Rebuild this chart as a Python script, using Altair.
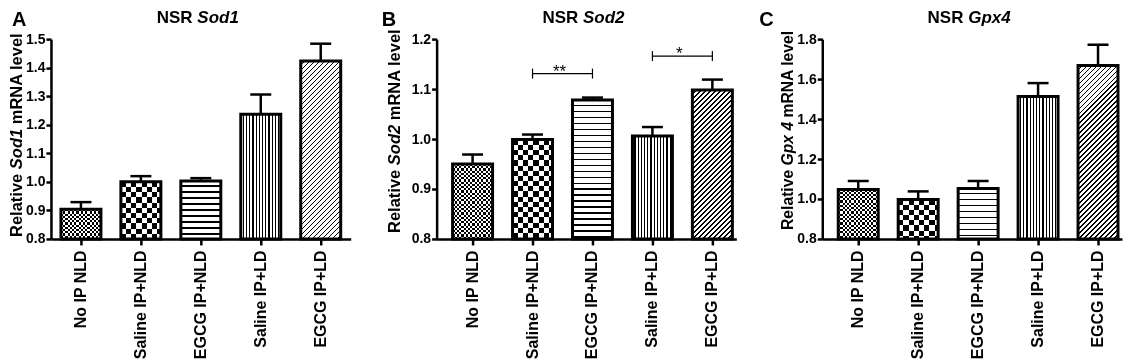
import altair as alt
import pandas as pd

# ---------------- data ----------------
groups = ["No IP NLD", "Saline IP+NLD", "EGCG IP+NLD", "Saline IP+LD", "EGCG IP+LD"]

sod1_mean = [0.904, 1.000, 1.003, 1.237, 1.423]
sod1_err = [0.025, 0.020, 0.010, 0.069, 0.061]

sod2_mean = [0.950, 0.999, 1.078, 1.006, 1.098]
sod2_err = [0.019, 0.010, 0.005, 0.018, 0.021]

gpx4_mean = [1.048, 0.998, 1.053, 1.513, 1.668]
gpx4_err = [0.042, 0.040, 0.037, 0.067, 0.104]

sod1_ticks = [0.8, 0.9, 1.0, 1.1, 1.2, 1.3, 1.4, 1.5]
sod2_ticks = [0.8, 0.9, 1.0, 1.1, 1.2]
gpx4_ticks = [0.8, 1.0, 1.2, 1.4, 1.6, 1.8]

sig_left = ["Saline IP+NLD", "Saline IP+LD"]
sig_right = ["EGCG IP+NLD", "EGCG IP+LD"]
sig_y = [1.131, 1.166]
sig_label = ["**", "*"]

# ---------------- style ----------------
FONT = "Liberation Sans"
W, H = 300, 200
BAND = 40.0
Y0 = 0.8

ARIAL_BOLD = {" ": 278, "R": 722, "e": 556, "l": 278, "a": 556, "t": 333, "i": 278,
              "v": 556, "S": 667, "o": 611, "d": 611, "1": 556, "2": 556, "4": 556,
              "G": 778, "p": 611, "x": 556, "m": 889, "N": 722, "A": 722}


def text_w(s, fs):
    return sum(ARIAL_BOLD.get(c, 556) for c in s) * fs / 1000.0


def stripe_stops(length, period, dark):
    stops = []
    p = 0.0
    while p < length - 1e-9:
        for color, seg in (("white", period - dark), ("black", dark)):
            a = p
            b = min(p + seg, length)
            if a < length:
                stops.append(alt.GradientStop(color=color, offset=round(a / length, 5)))
                stops.append(alt.GradientStop(color=color, offset=round(b / length, 5)))
            p += seg
    return stops


def lin(stops, x2, y2):
    return alt.LinearGradient(gradient="linear", stops=stops, x1=0, y1=0, x2=x2, y2=y2)


def text_layer(s, x, y, fs, italic=False, angle=0, weight="bold", align="left"):
    kw = dict(align=align, baseline="alphabetic", fontSize=fs, font=FONT,
              fontWeight=weight, color="black")
    if italic:
        kw["fontStyle"] = "italic"
    if angle:
        kw["angle"] = angle
    return alt.Chart(pd.DataFrame({"t": [s]})).mark_text(**kw).encode(
        text="t:N", x=alt.value(x), y=alt.value(y))


def panel(letter, gene_title, gene_ytitle, means, errs, ymax, yticks, align,
          ytitle_x, ytitle_y0, ytitle_fs, letter_x, sig=False):
    df = pd.DataFrame({"group": groups, "mean": means,
                       "upper": [m + e for m, e in zip(means, errs)]})
    xs = alt.Scale(domain=groups, paddingInner=1 / 3, paddingOuter=1 / 6, align=align)
    ys = alt.Scale(domain=[Y0, ymax], nice=False, zero=False)
    x_axis = alt.Axis(title=None, labelAngle=270, labelAlign="right", labelBaseline="middle",
                      labelFont=FONT, labelFontWeight="bold", labelFontSize=16,
                      labelColor="black", labelPadding=5, tickSize=6, tickWidth=2.5,
                      tickColor="black", domainColor="black", domainWidth=2.5, labelLimit=0)
    y_axis = alt.Axis(title=None, values=yticks, format=".1f", grid=False,
                      labelFont=FONT, labelFontWeight="bold", labelFontSize=14,
                      labelColor="black", labelPadding=1, tickSize=5, tickWidth=2.5,
                      tickColor="black", domainColor="black", domainWidth=2.5)

    def X(field):
        return alt.X(field, scale=xs, axis=x_axis)

    def Y(field):
        return alt.Y(field, scale=ys, axis=y_axis)

    layers = []
    for i, g in enumerate(groups):
        h = (means[i] - Y0) / (ymax - Y0) * H
        base = alt.Chart(df).transform_filter(alt.datum.group == g)
        enc = dict(x=X("group:N"), y=Y("mean:Q"), y2=alt.datum(Y0))
        if i in (0, 1):
            c = 2.2 if i == 0 else 5.2
            layers.append(base.mark_bar(fill=lin(stripe_stops(BAND, 2 * c, c), 1, 0),
                                        strokeWidth=0).encode(**enc))
            layers.append(base.mark_bar(fill=lin(stripe_stops(h, 2 * c, c), 0, 1),
                                        strokeWidth=0, blend="difference").encode(**enc))
        elif i == 2:
            layers.append(base.mark_bar(fill=lin(stripe_stops(h, 6.0, 1.5), 0, 1),
                                        strokeWidth=0).encode(**enc))
        elif i == 3:
            layers.append(base.mark_bar(fill=lin(stripe_stops(BAND, 3.2, 1.2), 1, 0),
                                        strokeWidth=0).encode(**enc))
        else:
            k = (BAND + h) / (BAND * BAND + h * h)
            layers.append(base.mark_bar(fill=lin(stripe_stops(BAND + h, 5.0, 1.5), k * BAND, k * h),
                                        strokeWidth=0).encode(**enc))

    # outline
    layers.append(alt.Chart(df).mark_bar(fillOpacity=0, stroke="black", strokeWidth=3).encode(
        x=X("group:N"), y=Y("mean:Q"), y2=alt.datum(Y0)))
    # error bars
    layers.append(alt.Chart(df).mark_rule(strokeWidth=2.5, color="black").encode(
        x=X("group:N"), y=Y("mean:Q"), y2="upper:Q"))
    layers.append(alt.Chart(df).mark_tick(size=21, thickness=2.5, color="black", opacity=1).encode(
        x=X("group:N"), y=Y("upper:Q")))

    if sig:
        sdf = pd.DataFrame({"left": sig_left, "right": sig_right, "y": sig_y, "label": sig_label})
        edf = pd.DataFrame({"g": sig_left + sig_right, "y": sig_y + sig_y})
        layers.append(alt.Chart(sdf).mark_rule(strokeWidth=1.2, color="black").encode(
            x=X("left:N"), x2="right:N", y=Y("y:Q")))
        layers.append(alt.Chart(edf).mark_tick(orient="vertical", size=10, thickness=1.2,
                                               color="black", opacity=1).encode(
            x=X("g:N"), y=Y("y:Q")))
        layers.append(alt.Chart(sdf).mark_text(fontSize=17, font=FONT, dx=27, dy=3,
                                               align="center", baseline="alphabetic",
                                               color="black").encode(
            x=X("left:N"), y=Y("y:Q"), text="label:N"))

    # panel letter
    layers.append(text_layer(letter, letter_x, -13, 20))
    # title: "NSR " + italic gene
    tfs = 17
    total = text_w("NSR " + gene_title, tfs)
    tx0 = 147 - total / 2
    layers.append(text_layer("NSR", tx0, -16, tfs))
    layers.append(text_layer(gene_title, tx0 + text_w("NSR ", tfs), -16, tfs, italic=True))
    # y title: "Relative " + italic gene + " mRNA level"
    fs = ytitle_fs
    layers.append(text_layer("Relative", ytitle_x, ytitle_y0, fs, angle=270))
    layers.append(text_layer(gene_ytitle, ytitle_x, ytitle_y0 - text_w("Relative ", fs), fs,
                             italic=True, angle=270))
    layers.append(text_layer("mRNA level", ytitle_x,
                             ytitle_y0 - text_w("Relative " + gene_ytitle + " ", fs), fs, angle=270))

    return alt.layer(*layers).properties(width=W, height=H)


pA = panel("A", "Sod1", "Sod1", sod1_mean, sod1_err, 1.5, sod1_ticks, 0.5,
           -29, 198, 16.5, -39)
pB = panel("B", "Sod2", "Sod2", sod2_mean, sod2_err, 1.2, sod2_ticks, 0.8,
           -37, 194, 16.5, -55, sig=True)
pC = panel("C", "Gpx4", "Gpx 4", gpx4_mean, gpx4_err, 1.8, gpx4_ticks, 0.8,
           -29, 191, 15.7, -63)

chart = alt.hconcat(pA, pB, pC, spacing=86, bounds="flush").properties(
    padding={"left": 0, "top": 0, "right": 0, "bottom": 0},
    background="white",
).configure_view(stroke="transparent")

chart.save("out.html", embed_options={"renderer": "svg", "actions": False})
